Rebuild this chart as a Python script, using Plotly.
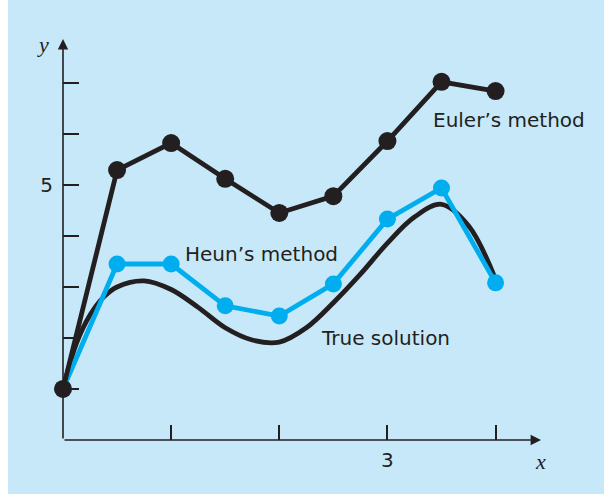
import plotly.graph_objects as go

# Data
step_x = [0, 0.5, 1.0, 1.5, 2.0, 2.5, 3.0, 3.5, 4.0]
euler_y = [1.0, 5.29, 5.82, 5.12, 4.45, 4.78, 5.86, 7.02, 6.84]
heun_y = [1.0, 3.45, 3.45, 2.63, 2.43, 3.06, 4.33, 4.94, 3.08]
true_x = [0, 0.125, 0.25, 0.375, 0.5, 0.75, 1.0, 1.25, 1.5, 1.75, 2.0, 2.25,
          2.5, 2.75, 3.0, 3.25, 3.5, 3.75, 4.0]
true_y = [1.0, 1.9, 2.45, 2.8, 3.0, 3.12, 2.95, 2.6, 2.2, 1.96, 1.92, 2.2,
          2.69, 3.25, 3.86, 4.37, 4.62, 4.2, 3.15]
x_ticks = [1, 2, 3, 4]
x_ticktext = ["", "", "3", ""]
y_ticks = [1, 2, 3, 4, 5, 6, 7]
y_ticktext = ["", "", "", "", "5", "", ""]

BLACK = "#231f20"
BLUE = "#00aeef"
BG = "#c6e8f8"
FONT = "DejaVu Sans"

W, H = 604, 494
L, R, T, B = 63, 63, 39, 54
XMAX, YMAX = 4.42, 7.86

fig = go.Figure()
fig.add_trace(go.Scatter(x=true_x, y=true_y, mode="lines",
                         line=dict(color=BLACK, width=4.8, shape="spline", smoothing=1.0),
                         cliponaxis=False, hoverinfo="skip"))
fig.add_trace(go.Scatter(x=step_x, y=heun_y, mode="lines+markers",
                         line=dict(color=BLUE, width=4.8),
                         marker=dict(color=BLUE, size=17),
                         cliponaxis=False))
fig.add_trace(go.Scatter(x=step_x, y=euler_y, mode="lines+markers",
                         line=dict(color=BLACK, width=4.8),
                         marker=dict(color=BLACK, size=18),
                         cliponaxis=False))

pw = W - L - R
ph = H - T - B
fig.update_layout(
    width=W, height=H,
    margin=dict(l=L, r=R, t=T, b=B, pad=0),
    paper_bgcolor=BG, plot_bgcolor=BG,
    showlegend=False,
    font=dict(family=FONT, color=BLACK, size=20),
    xaxis=dict(range=[0, XMAX], showgrid=False, zeroline=False, showline=False,
               ticks="inside", ticklen=15, tickwidth=1.5, tickcolor=BLACK,
               tickvals=x_ticks, ticktext=x_ticktext, ticklabelstandoff=6,
               tickfont=dict(family=FONT, size=20, color=BLACK)),
    yaxis=dict(range=[0, YMAX], showgrid=False, zeroline=False, showline=False,
               ticks="inside", ticklen=16, tickwidth=1.5, tickcolor=BLACK,
               tickvals=y_ticks, ticktext=y_ticktext, ticklabelstandoff=9,
               tickfont=dict(family=FONT, size=20, color=BLACK)),
    shapes=[
        dict(type="rect", xref="paper", yref="paper",
             x0=-L / pw, x1=(8 - L) / pw, y0=-B / ph, y1=(H - T) / ph + 0.01,
             fillcolor="white", line=dict(width=0), layer="below"),
        dict(type="rect", xref="paper", yref="paper",
             x0=-L / pw, x1=(W - L) / pw, y0=(H - T - 4) / ph, y1=(H - T) / ph + 0.01,
             fillcolor="white", line=dict(width=0), layer="below"),
    ],
)

# axes with arrows
fig.add_annotation(x=XMAX, y=0, ax=0, ay=0, xref="x", yref="y", axref="x", ayref="y",
                   text="", showarrow=True, arrowhead=2, arrowsize=1.3,
                   arrowwidth=1.6, arrowcolor=BLACK)
fig.add_annotation(x=0, y=YMAX, ax=0, ay=0, xref="x", yref="y", axref="x", ayref="y",
                   text="", showarrow=True, arrowhead=2, arrowsize=1.3,
                   arrowwidth=1.6, arrowcolor=BLACK)

# axis letters
fig.add_annotation(x=(43 - L) / pw, y=(H - B - 44) / ph, xref="paper", yref="paper",
                   xanchor="center", yanchor="middle",
                   text="<i>y</i>", showarrow=False,
                   font=dict(family="Liberation Serif", size=22, color=BLACK))
fig.add_annotation(x=(540 - L) / pw, y=(H - B - 461) / ph, xref="paper", yref="paper",
                   xanchor="center", yanchor="middle",
                   text="<i>x</i>", showarrow=False,
                   font=dict(family="Liberation Serif", size=22, color=BLACK))

# labels
fig.add_annotation(x=4.12, y=6.27, text="Euler’s method", showarrow=False,
                   xanchor="center", yanchor="middle",
                   font=dict(family=FONT, size=20, color=BLACK))
fig.add_annotation(x=1.84, y=3.65, text="Heun’s method", showarrow=False,
                   xanchor="center", yanchor="middle",
                   font=dict(family=FONT, size=20, color=BLACK))
fig.add_annotation(x=2.98, y=2.0, text="True solution", showarrow=False,
                   xanchor="center", yanchor="middle",
                   font=dict(family=FONT, size=20, color=BLACK))

fig.write_html("out.html", config={"displayModeBar": False},
               post_script="document.body.style.margin='0';document.body.style.overflow='hidden';")
